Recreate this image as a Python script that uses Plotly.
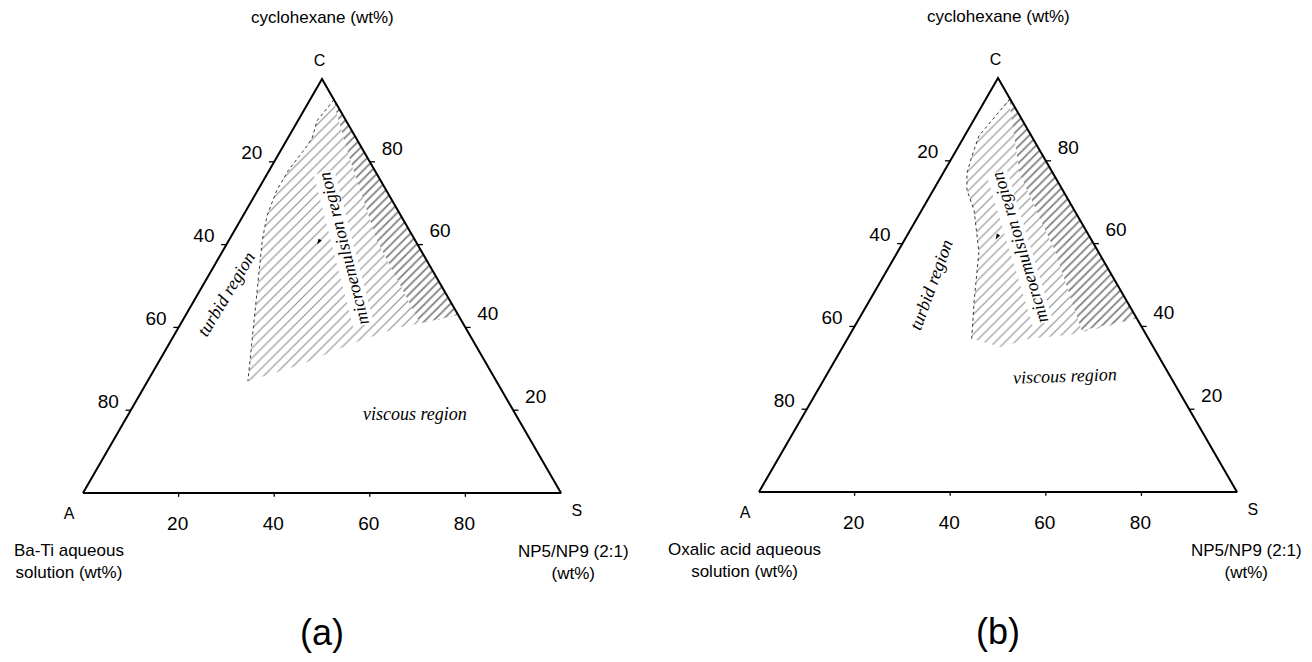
import math
import plotly.graph_objects as go

# ---------------- data (wt%) ----------------
tick_values = [20, 40, 60, 80]
tick_labels = ["20", "40", "60", "80"]
corner_labels = ["A", "S", "C"]

# panel (a): Ba-Ti aqueous solution / NP5-NP9 / cyclohexane
a_region_A = [0, 6, 9, 11, 18, 23, 28, 32, 42, 52, 39, 26, 14, 4, 0]
a_region_S = [5, 4, 5, 5, 4, 4, 5, 7, 14, 21, 30, 38, 46, 54, 57]
a_region_C = [95, 90, 86, 84, 78, 73, 67, 61, 44, 27, 31, 36, 40, 42, 43]
a_dense_A = [0, 0, 9, 8, 4, 1]
a_dense_S = [5, 57, 50, 31, 16, 7]
a_dense_C = [95, 43, 41, 61, 80, 92]
a_point = ([21], [19], [60])

# panel (b): oxalic acid aqueous solution / NP5-NP9 / cyclohexane
b_region_A = [0, 6, 11, 15, 18, 20, 21, 25, 32, 37, 32, 25, 16, 7, 0]
b_region_S = [5, 4, 3, 4, 5, 7, 11, 17, 22, 26, 33, 38, 46, 53, 58]
b_region_C = [95, 90, 86, 81, 77, 73, 68, 58, 46, 37, 35, 37, 38, 40, 42]
b_dense_A = [0, 0, 13, 9, 7, 1]
b_dense_S = [5, 58, 48, 33, 16, 6]
b_dense_C = [95, 42, 39, 58, 77, 93]
b_point = ([20], [19], [61])

# ---------------- helpers ----------------
SQ = math.sqrt(3) / 2


def to_xy(A, S, C):
    xs, ys = [], []
    for a, s, c in zip(A, S, C):
        t = a + s + c
        xs.append(100 * (s + c / 2) / t)
        ys.append(100 * SQ * c / t)
    return xs, ys


SANS = "Liberation Sans, Arial, sans-serif"
SERIF = "Liberation Serif, Times New Roman, serif"

fig = go.Figure()
annotations = []


def panel(xa, ya, reg, dense, point, labels, left_title, right_title, panel_label):
    # sparse hatch (whole microemulsion region)
    x, y = to_xy(*reg)
    fig.add_trace(go.Scatter(
        x=x, y=y, xaxis=xa, yaxis=ya, mode="lines", fill="toself",
        line=dict(width=0, color="rgba(0,0,0,0)"),
        fillpattern=dict(shape="/", size=7, solidity=0.17, fgcolor="#202020", bgcolor="white"),
        hoverinfo="skip", showlegend=False))
    # dense hatch near the C-S edge
    x, y = to_xy(*dense)
    fig.add_trace(go.Scatter(
        x=x, y=y, xaxis=xa, yaxis=ya, mode="lines", fill="toself",
        line=dict(width=0, color="rgba(0,0,0,0)"),
        fillpattern=dict(shape="/", size=6, solidity=0.3, fgcolor="black", bgcolor="white"),
        hoverinfo="skip", showlegend=False))
    # left boundary of region
    x, y = to_xy(reg[0][:10], reg[1][:10], reg[2][:10])
    fig.add_trace(go.Scatter(
        x=x, y=y, xaxis=xa, yaxis=ya, mode="lines",
        line=dict(width=0.9, color="#222", dash="dot"),
        hoverinfo="skip", showlegend=False))
    # triangle outline
    x, y = to_xy([100, 0, 0, 100], [0, 100, 0, 0], [0, 0, 100, 0])
    fig.add_trace(go.Scatter(
        x=x, y=y, xaxis=xa, yaxis=ya, mode="lines",
        line=dict(width=2, color="black"), hoverinfo="skip", showlegend=False))
    # ticks and tick labels
    lx, ly = to_xy(tick_values, [0] * 4, [100 - v for v in tick_values])      # left edge: A
    rx, ry = to_xy([0] * 4, [100 - v for v in tick_values], tick_values)      # right edge: C
    bx, by = to_xy([100 - v for v in tick_values], tick_values, [0] * 4)      # bottom: S
    tx, ty = [], []
    for i in range(4):
        tx += [lx[i], lx[i] - 1.1, None, rx[i], rx[i] + 1.1, None, bx[i], bx[i], None]
        ty += [ly[i], ly[i], None, ry[i], ry[i], None, by[i], by[i] - 0.8, None]
    fig.add_trace(go.Scatter(
        x=tx, y=ty, xaxis=xa, yaxis=ya, mode="lines",
        line=dict(width=1.3, color="black"), hoverinfo="skip", showlegend=False))
    fig.add_trace(go.Scatter(
        x=[v - 4.7 for v in lx] + [v + 4.7 for v in rx] + [v - 0.2 for v in bx],
        y=[v + 1.5 for v in ly] + [v + 2.5 for v in ry] + [v - 6.7 for v in by],
        text=tick_labels * 3, xaxis=xa, yaxis=ya, mode="text",
        textfont=dict(family=SANS, size=19, color="black"),
        hoverinfo="skip", showlegend=False))
    # corner labels
    cx, cy = to_xy([100, 0, 0], [0, 100, 0], [0, 0, 100])
    fig.add_trace(go.Scatter(
        x=[cx[0] - 2.9, cx[1] + 3.3, cx[2] - 0.5],
        y=[cy[0] - 4.6, cy[1] - 4.0, cy[2] + 3.6],
        text=corner_labels, xaxis=xa, yaxis=ya, mode="text",
        textfont=dict(family=SANS, size=16, color="black"),
        hoverinfo="skip", showlegend=False))
    # marked composition
    px, py = to_xy(*point)
    fig.add_trace(go.Scatter(
        x=px, y=py, xaxis=xa, yaxis=ya, mode="markers",
        marker=dict(symbol="arrow", size=6, angle=210, color="black"),
        hoverinfo="skip", showlegend=False))
    # region labels
    xr = xa
    yr = ya
    for (txt, comp, ang, bg) in labels:
        lxx, lyy = to_xy([comp[0]], [comp[1]], [comp[2]])
        annotations.append(dict(
            x=lxx[0], y=lyy[0], xref=xr, yref=yr, text=txt, showarrow=False,
            textangle=ang, xanchor="center", yanchor="middle",
            bgcolor=bg, borderpad=0,
            font=dict(family=SERIF, size=18, color="black", style="italic")))
    # axis titles
    annotations.append(dict(x=50, y=99.4, xref=xr, yref=yr, text="cyclohexane (wt%)",
                            showarrow=False, font=dict(family=SANS, size=17, color="black")))
    annotations.append(dict(x=left_title[1], y=-14.3, xref=xr, yref=yr, text=left_title[0],
                            showarrow=False, align="center",
                            font=dict(family=SANS, size=17, color="black")))
    annotations.append(dict(x=right_title[1], y=-14.5, xref=xr, yref=yr, text=right_title[0],
                            showarrow=False, align="center",
                            font=dict(family=SANS, size=17, color="black")))
    annotations.append(dict(x=50, y=-29.1, xref=xr, yref=yr, text=panel_label,
                            showarrow=False, font=dict(family=SANS, size=36, color="black")))


panel("x", "y",
      (a_region_A, a_region_S, a_region_C), (a_dense_A, a_dense_S, a_dense_C), a_point,
      [("microemulsion region", (16, 25, 59), -104.5, "white"),
       ("turbid region", (46, 6, 48), -59, "rgba(0,0,0,0)"),
       ("viscous region", (21, 60, 19), 0, "rgba(0,0,0,0)")],
      ("Ba-Ti aqueous<br>solution (wt%)", -2.9),
      ("NP5/NP9 (2:1)<br>(wt%)", 102.6), "(a)")

panel("x2", "y2",
      (b_region_A, b_region_S, b_region_C), (b_dense_A, b_dense_S, b_dense_C), b_point,
      [("microemulsion region", (16, 25, 59), -107, "white"),
       ("turbid region", (39, 11, 50), -70, "rgba(0,0,0,0)"),
       ("viscous region", (22, 50, 28), -2, "rgba(0,0,0,0)")],
      ("Oxalic acid aqueous<br>solution (wt%)", -3.1),
      ("NP5/NP9 (2:1)<br>(wt%)", 102.0), "(b)")

PX = 4.78          # pixels per wt% unit
W, H = 1296, 646   # page body adds an 8 px margin on every side
HALF = W / 2
A_a_x, base_a = 75, 485     # corner A of panel (a), in figure pixels
A_b_x, base_b = 103, 484    # corner A of panel (b), relative to its half
ax = dict(visible=False, showgrid=False, zeroline=False, fixedrange=True)
fig.update_layout(
    width=W, height=H, margin=dict(l=0, r=0, t=0, b=0),
    paper_bgcolor="white", plot_bgcolor="white", showlegend=False,
    xaxis=dict(domain=[0, 0.5], range=[-A_a_x / PX, (HALF - A_a_x) / PX], **ax),
    yaxis=dict(domain=[0, 1], anchor="x", range=[-(H - base_a) / PX, base_a / PX], **ax),
    xaxis2=dict(domain=[0.5, 1], range=[-A_b_x / PX, (HALF - A_b_x) / PX], **ax),
    yaxis2=dict(domain=[0, 1], anchor="x2", range=[-(H - base_b) / PX, base_b / PX], **ax),
    annotations=annotations,
)
fig.write_html("out.html")
